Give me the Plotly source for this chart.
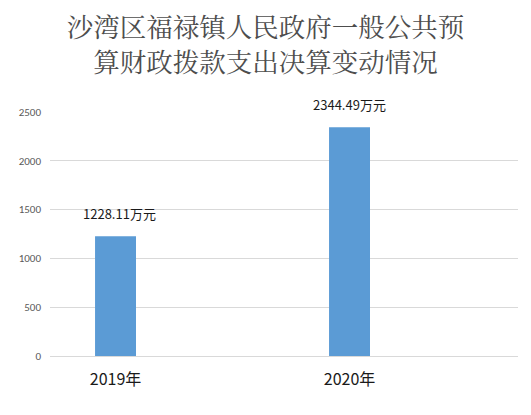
import plotly.graph_objs as go

# Data
years = ["2019年", "2020年"]
amounts = [1228.11, 2344.49]
y_ticks = [0, 500, 1000, 1500, 2000, 2500]

title_text = "沙湾区福禄镇人民政府一般公共预<br>算财政拨款支出决算变动情况"

fig = go.Figure()

fig.add_trace(
    go.Bar(
        x=years,
        y=amounts,
        width=0.175,
        marker=dict(color="#5B9BD5", line=dict(width=0)),
        hoverinfo="skip",
    )
)

# value labels above bars
for yr, val in zip(years, amounts):
    fig.add_annotation(
        x=yr,
        y=val,
        text=f"{val:.2f}万元",
        showarrow=False,
        yanchor="middle",
        yshift=23,
        xshift=4 if yr == years[0] else 0,
        font=dict(family="Noto Sans CJK SC, Open Sans", size=13, color="#1a1a1a"),
    )

fig.update_layout(
    width=531,
    height=415,
    margin=dict(l=50, r=13, t=112, b=59),
    paper_bgcolor="white",
    plot_bgcolor="white",
    showlegend=False,
    title=dict(
        text=title_text,
        x=0.5,
        xanchor="center",
        y=0.91,
        yanchor="middle",
        font=dict(family="Noto Serif CJK SC, Noto Sans CJK SC", size=26.5, color="#4d4d4d"),
    ),
)

# X-Axes
fig.update_xaxes(
    type="category",
    range=[-0.28, 1.72],
    showgrid=False,
    showline=False,
    ticks="",
    ticklabelstandoff=12,
    tickfont=dict(family="Noto Sans CJK SC", size=16, color="#1a1a1a"),
)

# Y-Axes
fig.update_yaxes(
    range=[0, 2500],
    tickvals=y_ticks,
    showgrid=True,
    gridcolor="#d9d9d9",
    gridwidth=1,
    zeroline=True,
    zerolinecolor="#d9d9d9",
    zerolinewidth=1,
    showline=False,
    ticks="",
    ticklabelstandoff=8,
    tickfont=dict(family="Calibri, Carlito, Open Sans", size=11, color="#595959"),
)

# remove default page margin so the figure sits at the window corner
fig.write_html(
    "out.html",
    config={"displayModeBar": False},
    post_script="document.body.style.margin='0';",
)
